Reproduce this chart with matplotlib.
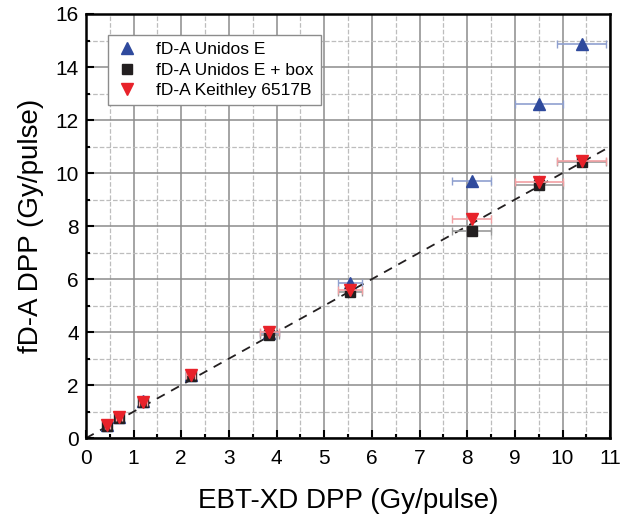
import matplotlib.pyplot as plt
from matplotlib.ticker import MultipleLocator
from matplotlib.lines import Line2D

plt.rcParams['font.family'] = ['Liberation Sans', 'DejaVu Sans']

# EBT-XD dose per pulse (x) and fD-A readings (y)
x_ebt = [0.45, 0.7, 1.2, 2.2, 3.85, 5.55, 8.1, 9.5, 10.4]
x_err = [0.05, 0.06, 0.08, 0.1, 0.2, 0.25, 0.41, 0.5, 0.52]
y_unidos = [0.5, 0.8, 1.4, 2.4, 3.95, 5.85, 9.7, 12.6, 14.85]
y_box = [0.45, 0.75, 1.35, 2.35, 3.9, 5.5, 7.8, 9.55, 10.4]
y_keith = [0.5, 0.8, 1.38, 2.4, 4.0, 5.6, 8.25, 9.65, 10.45]
names = ['fD-A Unidos E', 'fD-A Unidos E + box', 'fD-A Keithley 6517B']

blue = '#2f4a9d'
black = '#231f20'
red = '#e8222a'

fig = plt.figure(figsize=(6.22, 5.18), dpi=100)
ax = fig.add_axes([0.138, 0.154, 0.843, 0.819])

ax.plot([0, 11], [0, 11], ls=(0, (5, 4)), color=black, lw=1.3, zorder=2)

ax.errorbar(x_ebt, y_unidos, xerr=x_err, fmt='^', color=blue, ms=9,
            ecolor='#8fa0cf', elinewidth=1.2, capsize=3, zorder=3)
ax.errorbar(x_ebt, y_box, xerr=x_err, fmt='s', color=black, ms=7,
            ecolor='#9a9a9a', elinewidth=1.2, capsize=3, zorder=4)
ax.errorbar(x_ebt, y_keith, xerr=x_err, fmt='v', color=red, ms=9,
            ecolor='#f2a0a3', elinewidth=1.2, capsize=3, zorder=5)

ax.set_xlim(0, 11)
ax.set_ylim(0, 16)
ax.xaxis.set_major_locator(MultipleLocator(1))
ax.xaxis.set_minor_locator(MultipleLocator(0.5))
ax.yaxis.set_major_locator(MultipleLocator(2))
ax.yaxis.set_minor_locator(MultipleLocator(1))
ax.grid(which='major', color='#8c8c8c', lw=1.1)
ax.grid(which='minor', color='#bdbdbd', lw=0.9, ls='--')
ax.set_axisbelow(True)
ax.tick_params(which='both', direction='in', labelsize=15, width=1.5)
ax.tick_params(which='major', length=6)
ax.tick_params(which='minor', length=3)
ax.tick_params(axis='x', pad=8)
ax.tick_params(axis='y', pad=5)
for s in ax.spines.values():
    s.set_linewidth(1.8)

ax.set_xlabel('EBT-XD DPP (Gy/pulse)', fontsize=20, labelpad=14)
ax.set_ylabel('fD-A DPP (Gy/pulse)', fontsize=20, labelpad=8)

handles = [Line2D([], [], ls='none', marker='^', ms=9, color=blue),
           Line2D([], [], ls='none', marker='s', ms=7, color=black),
           Line2D([], [], ls='none', marker='v', ms=9, color=red)]
ax.legend(handles, names, loc='upper left', bbox_to_anchor=(0.025, 0.97),
          fontsize=12.5, fancybox=False, framealpha=1, edgecolor='#8c8c8c',
          handlelength=1.4, handletextpad=1.0, borderpad=0.4, labelspacing=0.3)

fig.savefig('out.png', dpi=100)
